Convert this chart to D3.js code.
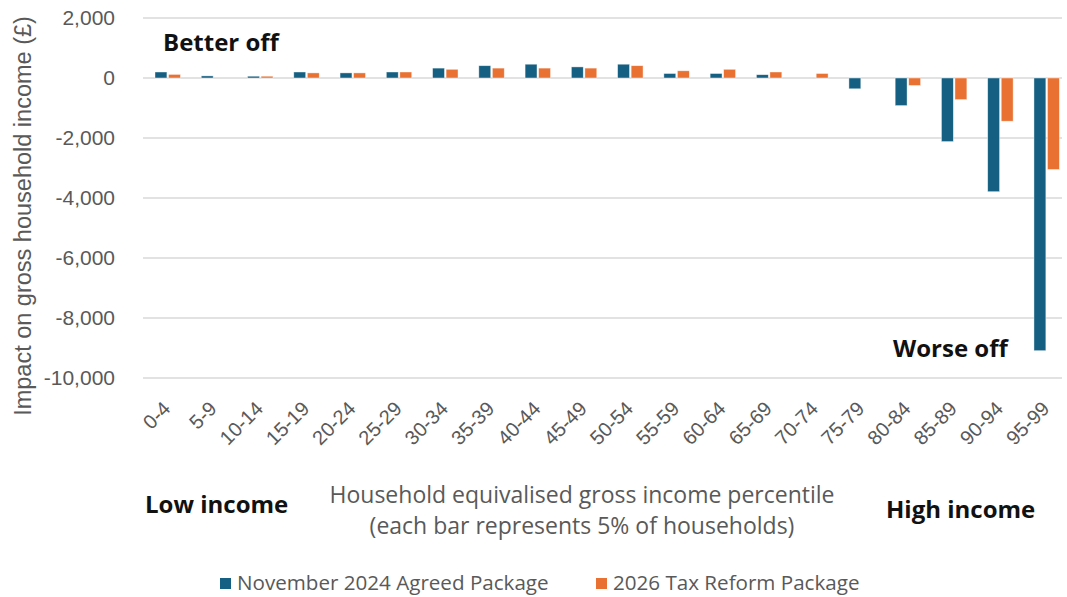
<!DOCTYPE html>
<html>
<head>
<meta charset="utf-8">
<script src="https://cdn.jsdelivr.net/npm/d3@7"></script>
<style>
  body { margin: 0; background: #fff; }
  text { font-family: "Open Sans", sans-serif; }
</style>
</head>
<body>
<div id="chart"></div>
<script>
// percentile bands
const categories = ["0-4", "5-9", "10-14", "15-19", "20-24", "25-29", "30-34", "35-39", "40-44", "45-49",
  "50-54", "55-59", "60-64", "65-69", "70-74", "75-79", "80-84", "85-89", "90-94", "95-99"];
const series = ["November 2024 Agreed Package", "2026 Tax Reform Package"];
const november2024 = [200, 70, 60, 200, 170, 200, 330, 410, 460, 370, 460, 150, 150, 110, 0, -360, -920, -2120, -3790, -9090];
const taxReform2026 = [120, 0, 60, 170, 170, 200, 290, 330, 330, 330, 410, 240, 290, 200, 150, 0, -250, -720, -1440, -3050];
const yTicks = [2000, 0, -2000, -4000, -6000, -8000, -10000];

const blue = "#156082";
const orange = "#e97132";
const grey = "#595959";
const axisFont = "'Liberation Sans', Arial, sans-serif";

const width = 1067;
const height = 597;
const marginLeft = 143;
const gridRight = 1062;
const marginTop = 18;
const plotBottom = 378;

const svg = d3.select("#chart").append("svg")
  .attr("width", width)
  .attr("height", height);

const x = d3.scaleBand()
  .domain(categories)
  .range([144.6, 1069.8])
  .paddingInner(0.45)
  .paddingOuter(0.225);

const xs = d3.scaleBand()
  .domain(series)
  .range([0, x.bandwidth()])
  .paddingInner(0.12);

const y = d3.scaleLinear()
  .domain([-10000, 2000])
  .range([plotBottom, marginTop]);

// gridlines
svg.append("g")
  .selectAll("line")
  .data(yTicks)
  .join("line")
  .attr("x1", marginLeft)
  .attr("x2", gridRight)
  .attr("y1", d => y(d))
  .attr("y2", d => y(d))
  .attr("stroke", "#d9d9d9")
  .attr("stroke-width", 1.4);

// y axis labels (plain hyphen for negatives, like the original)
const fmt = d3.format(",");
const yAxis = svg.append("g")
  .attr("transform", `translate(${marginLeft - 25},0)`)
  .call(d3.axisLeft(y).tickValues(yTicks).tickSize(0).tickFormat(d => fmt(d).replace("\u2212", "-")));
yAxis.select(".domain").remove();
yAxis.selectAll("text")
  .attr("fill", grey)
  .style("font-size", "21px")
  .style("font-family", axisFont);

// bars
const data = categories.map((c, i) => ({cat: c, values: [november2024[i], taxReform2026[i]]}));
const colors = [blue, orange];

const groups = svg.append("g")
  .selectAll("g")
  .data(data)
  .join("g")
  .attr("transform", d => `translate(${x(d.cat)},0)`);

groups.selectAll("rect")
  .data(d => d.values.map((v, j) => ({key: series[j], v: v, j: j})))
  .join("rect")
  .attr("x", d => xs(d.key))
  .attr("width", xs.bandwidth())
  .attr("y", d => y(Math.max(0, d.v)))
  .attr("height", d => Math.abs(y(d.v) - y(0)))
  .attr("fill", d => colors[d.j])
  .attr("stroke", "#fff")
  .attr("stroke-opacity", 0.6)
  .attr("stroke-width", 0.7);

// x tick labels, rotated
const xAxis = svg.append("g")
  .attr("transform", `translate(0,${plotBottom})`)
  .call(d3.axisBottom(x).tickSize(0).tickPadding(0));
xAxis.select(".domain").remove();
xAxis.selectAll("text")
  .attr("fill", grey)
  .style("font-size", "20px")
  .style("font-family", axisFont)
  .attr("text-anchor", "end")
  .attr("dy", null)
  .attr("y", null)
  .attr("transform", "translate(4,32) rotate(-45)");

// y axis title
svg.append("text")
  .attr("transform", `translate(31,216) rotate(-90)`)
  .attr("text-anchor", "middle")
  .attr("fill", grey)
  .style("font-size", "23.5px")
  .style("font-family", axisFont)
  .text("Impact on gross household income (£)");

// annotations
const notes = [
  {t: "Better off", x: 163, y: 51},
  {t: "Worse off", x: 893, y: 357},
  {t: "Low income", x: 145, y: 513},
  {t: "High income", x: 886, y: 518}
];
svg.append("g")
  .selectAll("text")
  .data(notes)
  .join("text")
  .attr("x", d => d.x)
  .attr("y", d => d.y)
  .attr("fill", "#111")
  .style("font-size", "24px")
  .style("font-weight", "bold")
  .text(d => d.t);

svg.append("text")
  .attr("x", 582)
  .attr("y", 503)
  .attr("text-anchor", "middle")
  .attr("fill", grey)
  .style("font-size", "23px")
  .text("Household equivalised gross income percentile");
svg.append("text")
  .attr("x", 582)
  .attr("y", 534)
  .attr("text-anchor", "middle")
  .attr("fill", grey)
  .style("font-size", "23px")
  .text("(each bar represents 5% of households)");

// legend
const legendX = [220, 596];
const legend = svg.append("g")
  .selectAll("g")
  .data(series)
  .join("g")
  .attr("transform", (d, i) => `translate(${legendX[i]},578)`);
legend.append("rect")
  .attr("width", 11)
  .attr("height", 11)
  .attr("fill", (d, i) => colors[i]);
legend.append("text")
  .attr("x", 17)
  .attr("y", 12)
  .attr("fill", grey)
  .style("font-size", "20.6px")
  .text(d => d);
</script>
</body>
</html>
